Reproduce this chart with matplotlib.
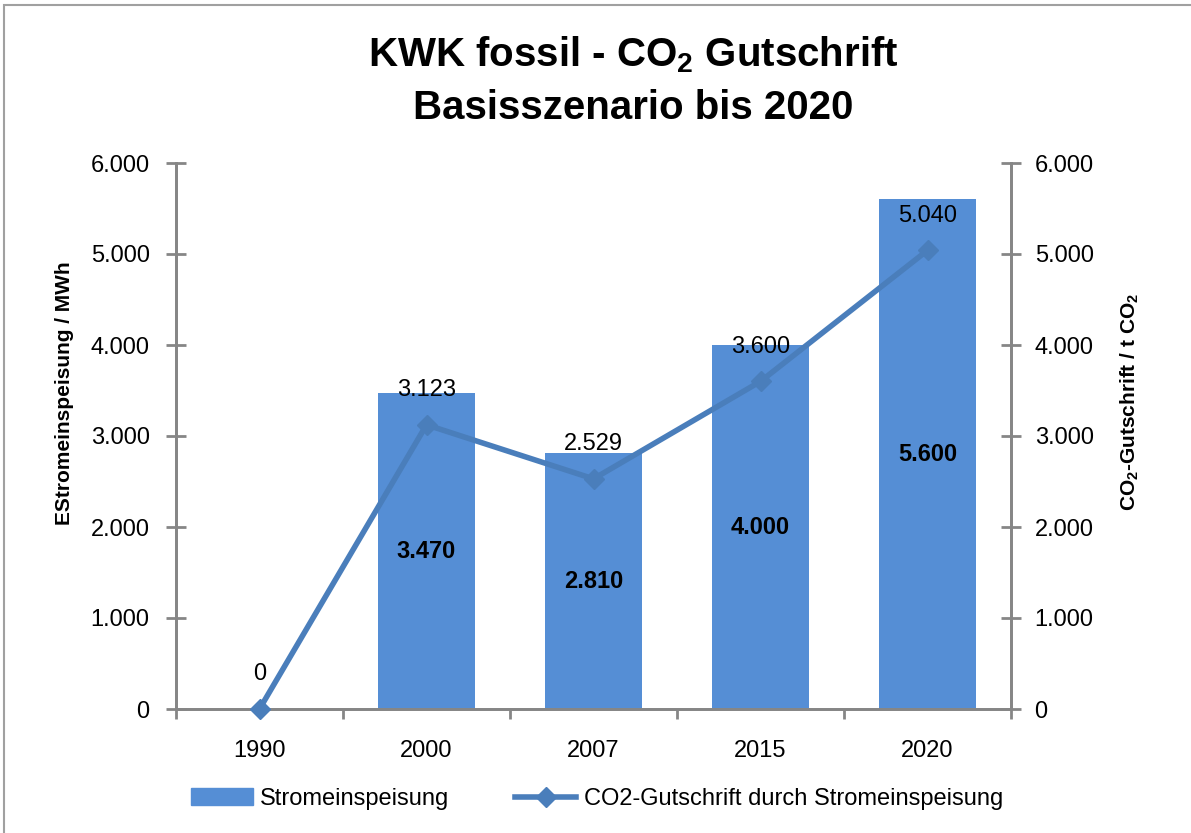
import matplotlib.pyplot as plt
from matplotlib.patches import Rectangle
from matplotlib.ticker import FuncFormatter, FixedLocator

# DATA
years = ["1990", "2000", "2007", "2015", "2020"]
strom = [0, 3470, 2810, 4000, 5600]
co2 = [0, 3123, 2529, 3600, 5040]

bar_color = "#558ED5"
line_color = "#4A7EBB"
axis_color = "#868686"

plt.rcParams['font.family'] = ['Liberation Sans', 'DejaVu Sans']
plt.rcParams['mathtext.fontset'] = 'custom'
plt.rcParams['mathtext.rm'] = 'Liberation Sans'
plt.rcParams['mathtext.bf'] = 'Liberation Sans:bold'


def de_fmt(v, pos=None):
    return f"{v:,.0f}".replace(",", ".")


fig = plt.figure(figsize=(11.91, 8.33), dpi=100)

# outer frame
fig.patches.append(Rectangle((4 / 1191, -0.1), 1.2, 1.1 - 5 / 833, transform=fig.transFigure,
                             fill=False, edgecolor="#A0A0A0", linewidth=1.5))

ax = fig.add_axes([176 / 1191, 1 - 709 / 833, 835 / 1191, 546 / 833])
ax2 = ax.twinx()

x = list(range(len(years)))

ax.bar(x, strom, width=0.58, color=bar_color, zorder=2)
ax2.plot(x, co2, color=line_color, linewidth=4, marker="D", markersize=10,
         zorder=3, clip_on=False)

# data labels
for xi, v in zip(x, strom):
    if v > 0:
        ax.text(xi, v / 2, de_fmt(v), ha="center", va="center",
                fontsize=17, fontweight="bold", zorder=4)
for xi, v in zip(x, co2):
    ax2.annotate(de_fmt(v), (xi, v), xytext=(0, 25), textcoords="offset points",
                 ha="center", va="center", fontsize=17, zorder=5)

for a in (ax, ax2):
    a.set_ylim(0, 6000)
    a.set_xlim(-0.5, 4.5)
    a.yaxis.set_major_locator(FixedLocator(range(0, 6001, 1000)))
    a.yaxis.set_major_formatter(FuncFormatter(de_fmt))
    a.spines["top"].set_visible(False)
    for s in ("left", "right", "bottom"):
        a.spines[s].set_color(axis_color)
        a.spines[s].set_linewidth(2)

ax.set_xticks([i - 0.5 for i in range(len(years) + 1)])
ax.set_xticklabels([])
ax.set_xticks(x, minor=True)
ax.set_xticklabels(years, minor=True)
ax.tick_params(axis="x", which="major", direction="out", length=7, width=2, color=axis_color)
ax.tick_params(axis="x", which="minor", length=0, pad=22, labelsize=17)

ax.tick_params(axis="y", direction="inout", length=14, width=2, color=axis_color,
               labelsize=17, pad=12)
ax2.tick_params(axis="y", direction="inout", length=14, width=2, color=axis_color,
                labelsize=17, pad=10)

ax.set_ylabel("EStromeinspeisung / MWh", fontsize=15, fontweight="bold", labelpad=12)
ax2.set_ylabel(r"CO$_\mathbf{2}$-Gutschrift / t CO$_\mathbf{2}$", fontsize=15,
               fontweight="bold", labelpad=18, rotation=90)
ax.yaxis.label.set_y((709 - 393) / 546)
ax2.yaxis.label.set_y((709 - 402) / 546)

fig.text(633 / 1191, 1 - 55 / 833, r"KWK fossil - CO$_\mathbf{2}$ Gutschrift", ha="center",
         va="center", fontsize=29, fontweight="bold")
fig.text(633 / 1191, 1 - 108 / 833, "Basisszenario bis 2020", ha="center", va="center",
         fontsize=29, fontweight="bold")

h1 = Rectangle((0, 0), 1, 1, color=bar_color)
h2, = ax2.plot([], [], color=line_color, linewidth=4, marker="D", markersize=10)
fig.legend([h1, h2], ["Stromeinspeisung", "CO2-Gutschrift durch Stromeinspeisung"],
           loc="center", bbox_to_anchor=(597 / 1191, 1 - 799 / 833), ncol=2,
           frameon=False, fontsize=17, handlelength=2.6, columnspacing=2.8,
           handletextpad=0.3)

plt.savefig("out.png", dpi=100)
